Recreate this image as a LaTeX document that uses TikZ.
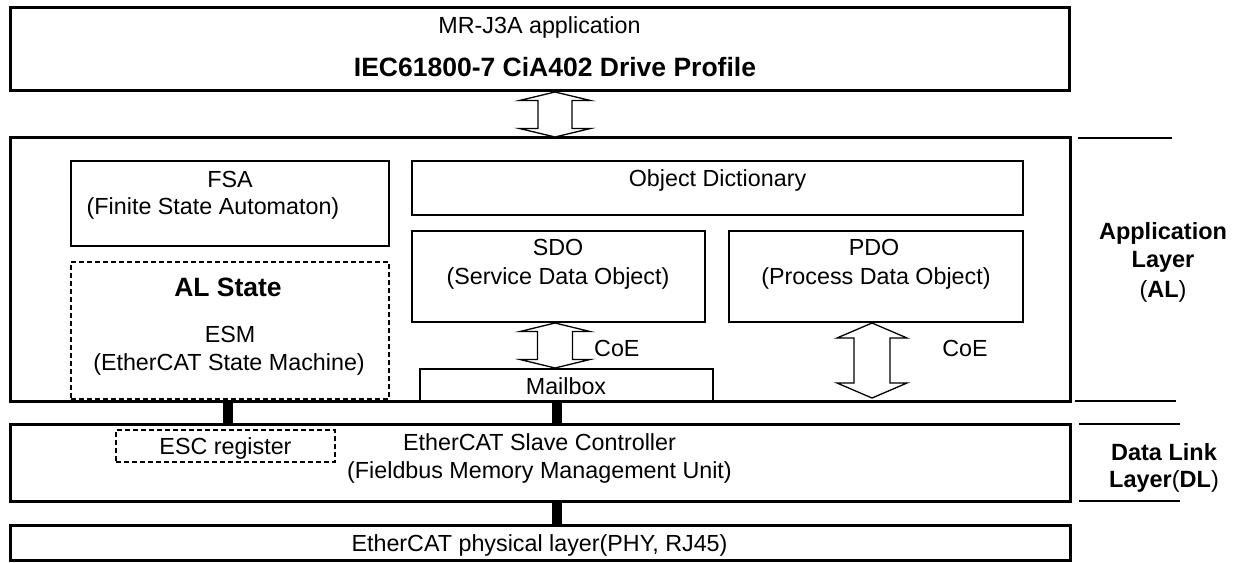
\documentclass[tikz,border=0pt]{standalone}
\usepackage{fontspec}
\setmainfont{Liberation Sans}
\usetikzlibrary{calc}
\newcommand{\dblblock}[6]{%
  \draw[blk] (#1,#2) -- (#1+#4,#2+#6) -- (#1+#5,#2+#6) -- (#1+#5,#3-#6) -- (#1+#4,#3-#6) -- (#1,#3)
    -- (#1-#4,#3-#6) -- (#1-#5,#3-#6) -- (#1-#5,#2+#6) -- (#1-#4,#2+#6) -- cycle;}
\begin{document}
\begin{tikzpicture}[x=1pt,y=-1pt,
  layerbox/.style={draw=black, line width=3pt, rectangle, inner sep=0pt, outer sep=0pt},
  innerbox/.style={draw=black, line width=1.3pt, rectangle, inner sep=0pt, outer sep=0pt, fill=white},
  dashbox/.style={draw=black, line width=1.3pt, rectangle, inner sep=0pt, outer sep=0pt, dash pattern=on 5pt off 3pt},
  blk/.style={draw=black, line width=1.3pt, fill=white, line join=miter},
  bus/.style={draw=black, line width=9.5pt},
  sideline/.style={draw=black, line width=1.6pt},
  txt/.style={anchor=base, inner sep=0pt, font=\fontsize{23.3}{27}\selectfont},
  btxt/.style={anchor=base, inner sep=0pt, font=\fontsize{26.5}{30}\selectfont\bfseries},
  stxt/.style={anchor=base, inner sep=0pt, font=\fontsize{23.5}{27}\selectfont},
]
\useasboundingbox (0,0) rectangle (1239,562);
\fill[white] (0,0) rectangle (1239,562);

% layer boxes
\node[layerbox, minimum width=1059pt, minimum height=83pt] (top) at (539.5,48.5) {};
\node[layerbox, minimum width=1060pt, minimum height=264pt] (al) at (540,269) {};
\node[layerbox, minimum width=1060pt, minimum height=77pt] (dl) at (540,462.5) {};
\node[layerbox, minimum width=1060pt, minimum height=35.5pt] (phy) at (540,542.75) {};

% inner boxes
\node[innerbox, minimum width=318pt, minimum height=85pt] (fsa) at (230,203.5) {};
\node[innerbox, minimum width=611pt, minimum height=54pt] (od) at (717.5,188) {};
\node[innerbox, minimum width=293pt, minimum height=91pt] (sdo) at (558.5,276.5) {};
\node[innerbox, minimum width=294pt, minimum height=91pt] (pdo) at (876,276.5) {};
\node[dashbox, minimum width=318pt, minimum height=137pt] (alstate) at (230,330.5) {};
\node[innerbox, minimum width=293pt, minimum height=32pt] (mailbox) at (566.5,385) {};
\node[dashbox, minimum width=219pt, minimum height=32pt] (esc) at (225.5,446) {};

% redraw AL bottom edge over mailbox / dashed box
\draw[line width=3pt] (al.south west) -- (al.south east);

% block double arrows
\dblblock{555}{92}{137}{35.5}{17}{8.5}
\dblblock{555}{323}{368}{35}{17.5}{8.5}
\dblblock{872}{323}{398}{35}{18}{15}

% bus connectors
\coordinate (b1) at (228,0);
\coordinate (b2) at (557,0);
\draw[bus] (al.south -| b1) -- (dl.north -| b1);
\draw[bus] (al.south -| b2) -- (dl.north -| b2);
\draw[bus] (dl.south -| b2) -- (phy.north -| b2);

% side lines
\draw[sideline] (1078,138) -- (1172,138);
\draw[sideline] (1075,401) -- (1176,401);
\draw[sideline] (1079,424) -- (1180,424);
\draw[sideline] (1079,501) -- (1180,501);

% texts
\node[txt] (t1) at (539.5,33) {MR-J3A application};
\node[btxt] (t2) at (555,76) {IEC61800-7 CiA402 Drive Profile};
\node[txt] (t3) at (230,187) {FSA};
\node[txt] (t4) at (213,214) {(Finite State Automaton)};
\node[txt] (t5) at (717.5,186) {Object Dictionary};
\node[txt] (t6) at (558,255) {SDO};
\node[txt] (t7) at (558,284) {(Service Data Object)};
\node[txt] (t8) at (874,255) {PDO};
\node[txt] (t9) at (876,284) {(Process Data Object)};
\node[btxt] (t10) at (228,296) {AL State};
\node[txt] (t11) at (230,342) {ESM};
\node[txt] (t12) at (229,370) {(EtherCAT State Machine)};
\node[txt, anchor=base west] (t13) at (594,356) {CoE};
\node[txt] (t14) at (965,356) {CoE};
\node[txt] (t15) at (566,394) {Mailbox};
\node[txt] (t16) at (225.5,454) {ESC register};
\node[txt] (t17) at (539.5,450) {EtherCAT Slave Controller};
\node[txt] (t18) at (539.5,478) {(Fieldbus Memory Management Unit)};
\node[txt] (t19) at (539.5,551) {EtherCAT physical layer(PHY, RJ45)};
\node[stxt, font=\fontsize{23.5}{27}\selectfont\bfseries] (t20) at (1163,239) {Application};
\node[stxt, font=\fontsize{23.5}{27}\selectfont\bfseries] (t21) at (1163,267) {Layer};
\node[stxt] (t22) at (1163,297) {(\textbf{AL})};
\node[stxt, font=\fontsize{23.5}{27}\selectfont\bfseries] (t23) at (1164,460) {Data Link};
\node[stxt] (t24) at (1164,487) {\textbf{Layer}(\textbf{DL})};
\end{tikzpicture}
\end{document}
